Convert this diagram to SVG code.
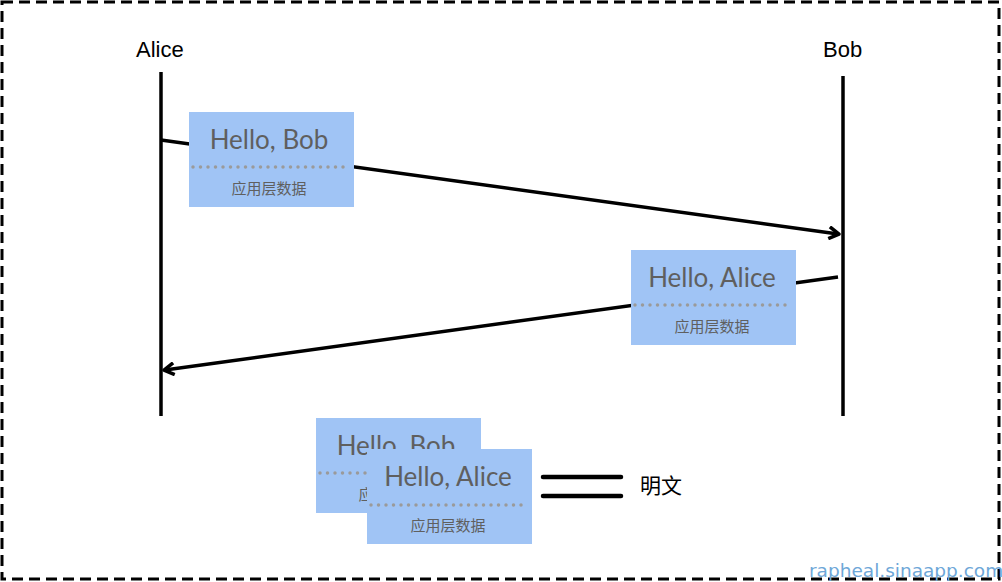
<svg xmlns="http://www.w3.org/2000/svg" width="1002" height="582" viewBox="0 0 1002 582">
<style>
.lab{font-family:"Liberation Sans","Noto Sans CJK SC",sans-serif;font-size:22px;fill:#000}
.box{fill:#a0c4f5}
.hello{font-family:"Lato","Open Sans",sans-serif;font-size:26px;fill:#5f5f5f;text-anchor:middle}
.sub{font-family:"Noto Sans CJK SC",sans-serif;font-size:15px;fill:#5f5f5f;text-anchor:middle}
.dot{stroke:#9a9a9a;stroke-width:3.5;stroke-dasharray:0 7.5;stroke-linecap:round}
.ln{stroke:#000;stroke-width:3.5;fill:none}
</style>
<defs>
<marker id="ah" markerWidth="14" markerHeight="14" refX="11" refY="7" orient="auto" markerUnits="userSpaceOnUse">
<path d="M2,1 L12,7 L2,13" fill="none" stroke="#000" stroke-width="3.5" stroke-linejoin="round"/>
</marker>
</defs>
<rect x="2" y="2" width="997" height="577" fill="none" stroke="#000" stroke-width="3" stroke-dasharray="11 6"/>
<g id="alice">
<text class="lab" x="136" y="57">Alice</text>
<line class="ln" x1="161" y1="72" x2="161" y2="416"/>
</g>
<g id="bob">
<text class="lab" x="823" y="57">Bob</text>
<line class="ln" x1="843" y1="76" x2="843" y2="416"/>
</g>
<g id="connectors">
<line class="ln" x1="161" y1="140" x2="838" y2="234" marker-end="url(#ah)"/>
<line class="ln" x1="838" y1="277" x2="165" y2="370" marker-end="url(#ah)"/>
<line x1="543" y1="477" x2="621" y2="477" stroke="#000" stroke-width="4.5" stroke-linecap="round"/>
<line x1="543" y1="496" x2="621" y2="496" stroke="#000" stroke-width="4.5" stroke-linecap="round"/>
</g>
<g id="msg1">
<rect class="box" x="189" y="112" width="165" height="95"/>
<text class="hello" x="269" y="149">Hello, Bob</text>
<line class="dot" x1="193" y1="167" x2="350" y2="167"/>
<text class="sub" x="269" y="194">应用层数据</text>
</g>
<g id="msg2">
<rect class="box" x="631" y="250" width="165" height="95"/>
<text class="hello" x="712" y="287">Hello, Alice</text>
<line class="dot" x1="635" y1="305" x2="792" y2="305"/>
<text class="sub" x="712" y="332">应用层数据</text>
</g>
<g id="stack-back">
<rect class="box" x="316" y="418" width="165" height="95"/>
<text class="hello" x="396" y="455">Hello, Bob</text>
<line class="dot" x1="320" y1="473" x2="477" y2="473"/>
<text class="sub" x="396" y="500">应用层数据</text>
</g>
<g id="stack-front">
<rect class="box" x="367" y="449" width="165" height="95"/>
<text class="hello" x="448" y="486">Hello, Alice</text>
<line class="dot" x1="371" y1="505" x2="528" y2="505"/>
<text class="sub" x="448" y="531">应用层数据</text>
</g>
<g id="plain">
<text x="640" y="493" style="font-family:'Noto Sans CJK SC',sans-serif;font-size:21px;fill:#000">明文</text>
</g>
<text x="809" y="577" style="font-family:'DejaVu Sans',sans-serif;font-size:18.5px;fill:#6ea7d8">rapheal.sinaapp.com</text>
</svg>
